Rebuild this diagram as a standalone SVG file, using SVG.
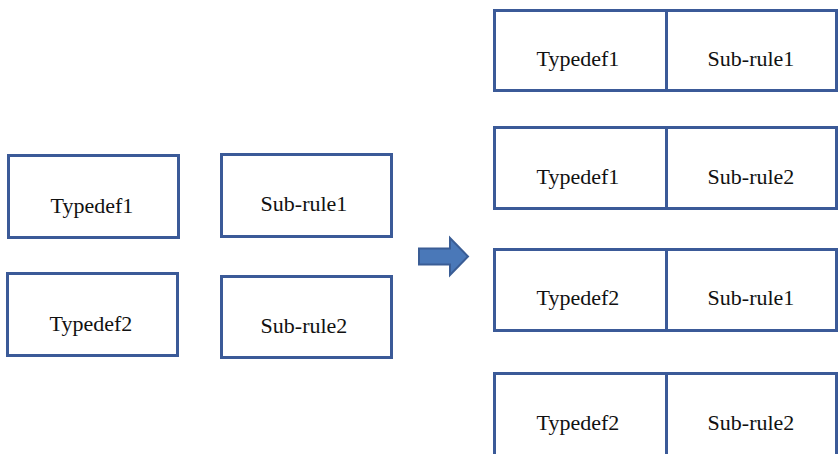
<svg xmlns="http://www.w3.org/2000/svg" width="839" height="454" viewBox="0 0 839 454">
<style>
.box{fill:#fff;stroke:#3b5a98;stroke-width:3}
.t{font-family:"Liberation Serif",serif;font-size:22px;fill:#111;text-anchor:middle}
</style>
<rect width="839" height="454" fill="#fff"/>
<g id="l-typedef1"><rect class="box" x="8.5" y="155.5" width="170" height="82"/><text class="t" x="92" y="213">Typedef1</text></g>
<g id="l-subrule1"><rect class="box" x="221.5" y="154.5" width="170" height="82"/><text class="t" x="304" y="211">Sub-rule1</text></g>
<g id="l-typedef2"><rect class="box" x="7.5" y="273.5" width="170" height="82"/><text class="t" x="91" y="331">Typedef2</text></g>
<g id="l-subrule2"><rect class="box" x="221.5" y="276.5" width="170" height="81"/><text class="t" x="304" y="333">Sub-rule2</text></g>
<g id="connectors">
<path d="M419,248.5 H450 V238 L468,256.5 L450,275 V264.5 H419 Z" fill="#4a78b8" stroke="#3a5d95" stroke-width="2"/>
</g>
<g id="r1"><rect class="box" x="494.5" y="10.5" width="342" height="80"/><line x1="666.5" y1="10.5" x2="666.5" y2="90.5" stroke="#3b5a98" stroke-width="3"/><text class="t" x="578" y="66">Typedef1</text><text class="t" x="751" y="66">Sub-rule1</text></g>
<g id="r2"><rect class="box" x="494.5" y="127.5" width="342" height="81"/><line x1="666.5" y1="127.5" x2="666.5" y2="208.5" stroke="#3b5a98" stroke-width="3"/><text class="t" x="578" y="184">Typedef1</text><text class="t" x="751" y="184">Sub-rule2</text></g>
<g id="r3"><rect class="box" x="494.5" y="249.5" width="342" height="81"/><line x1="666.5" y1="249.5" x2="666.5" y2="330.5" stroke="#3b5a98" stroke-width="3"/><text class="t" x="578" y="305">Typedef2</text><text class="t" x="751" y="305">Sub-rule1</text></g>
<g id="r4"><rect class="box" x="494.5" y="373.5" width="342" height="90"/><line x1="666.5" y1="373.5" x2="666.5" y2="454" stroke="#3b5a98" stroke-width="3"/><text class="t" x="578" y="430">Typedef2</text><text class="t" x="751" y="430">Sub-rule2</text></g>
</svg>
